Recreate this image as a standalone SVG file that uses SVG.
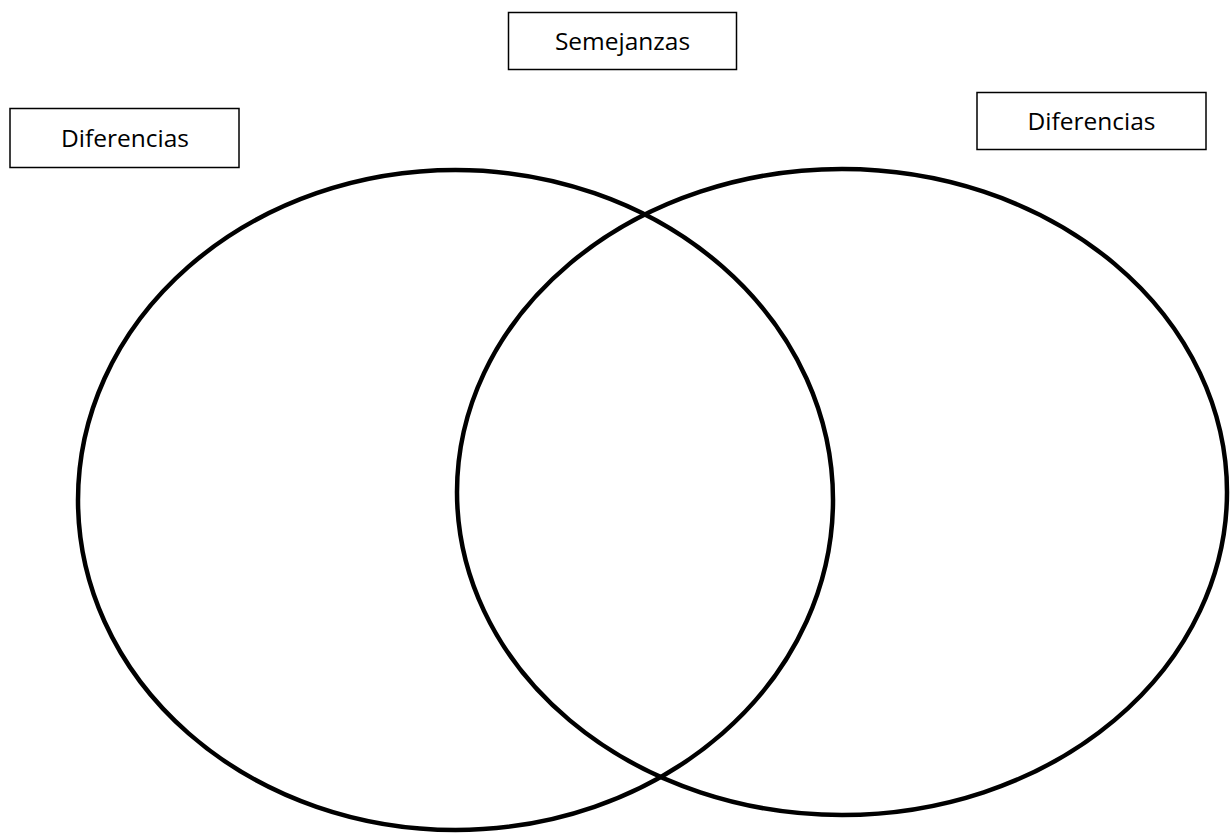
<svg xmlns="http://www.w3.org/2000/svg" width="1231" height="834" viewBox="0 0 1231 834">
<style>
.box{fill:#fff;stroke:#000;stroke-width:1.5}
.lbl{font-family:"Open Sans","Liberation Sans",sans-serif;font-size:24.5px;fill:#000;text-anchor:middle}
.circ{fill:none;stroke:#000;stroke-width:4.5}
</style>
<rect width="1231" height="834" fill="#fff"/>
<g id="connectors"></g>
<g id="left-circle"><ellipse class="circ" cx="455.5" cy="500" rx="377.5" ry="330"/></g>
<g id="right-circle"><ellipse class="circ" cx="842" cy="492" rx="385" ry="323"/></g>
<g id="semejanzas"><rect class="box" x="508.5" y="12.5" width="228" height="57"/><text class="lbl" x="622.5" y="50">Semejanzas</text></g>
<g id="diferencias-left"><rect class="box" x="10" y="108.5" width="229" height="59"/><text class="lbl" x="125" y="147">Diferencias</text></g>
<g id="diferencias-right"><rect class="box" x="977" y="92.5" width="229" height="57"/><text class="lbl" x="1091.5" y="130">Diferencias</text></g>
</svg>
